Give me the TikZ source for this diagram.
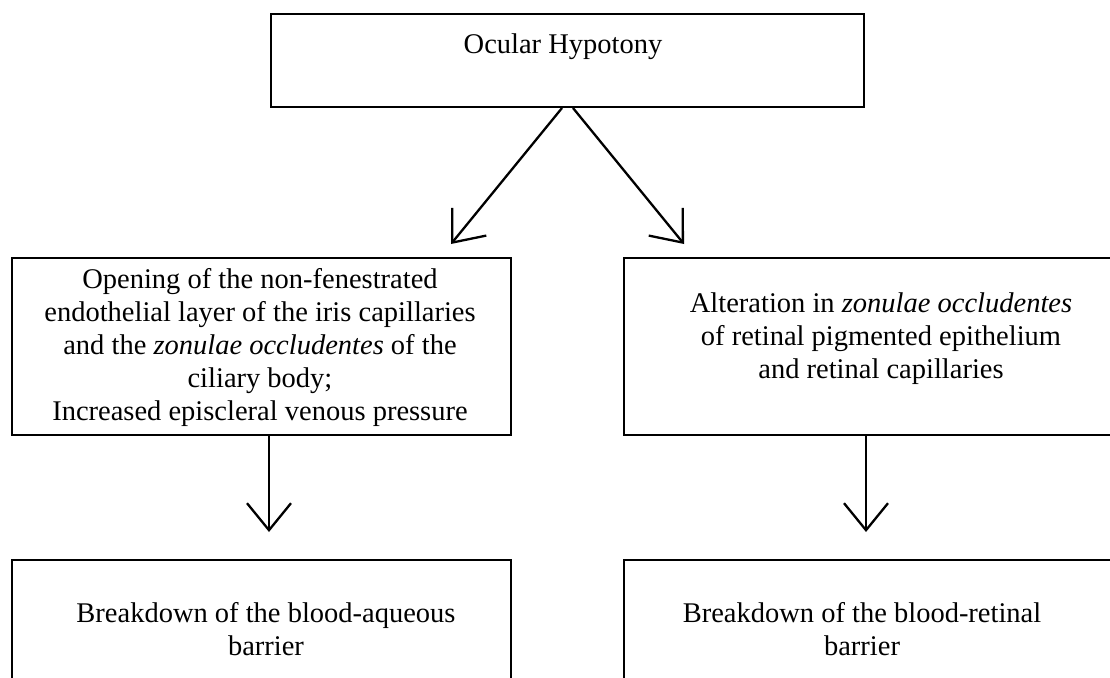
\documentclass[tikz,border=0pt]{standalone}
\usepackage{fontspec}
\setmainfont{Liberation Serif}
\usetikzlibrary{arrows.meta,calc}
\begin{document}
\begin{tikzpicture}[x=1pt,y=-1pt,
  box/.style={draw=black,line width=2pt,rectangle,inner sep=0pt},
  txt/.style={align=center,font=\fontsize{28.5}{33}\selectfont,inner sep=0pt},
  arr/.style={line width=2.3pt,-{Straight Barb[length=27pt,width=44pt,line width=2.3pt]}}]
\path[use as bounding box,fill=white] (0,0) rectangle (1110,677);
\clip (0,0) rectangle (1110,677);
% boxes
\node[box,minimum width=593pt,minimum height=93pt] (top) at (567.5,60.5) {};
\node[box,minimum width=499pt,minimum height=177pt] (ml) at (261.5,346.5) {};
\node[box,minimum width=512pt,minimum height=177pt] (mr) at (880,346.5) {};
\node[box,minimum width=499pt,minimum height=160pt] (bl) at (261.5,640) {};
\node[box,minimum width=512pt,minimum height=160pt] (br) at (880,640) {};
% texts
\node[txt,anchor=base] (ttop) at (563,54) {Ocular Hypotony};
\node[txt] (tml) at (260,347) {Opening of the non-fenestrated\\endothelial layer of the iris capillaries\\and the \textit{zonulae occludentes} of the\\ciliary body;\\Increased episcleral venous pressure};
\node[txt] (tmr) at (881,338.5) {Alteration in \textit{zonulae occludentes}\\of retinal pigmented epithelium\\and retinal capillaries};
\node[txt] (tbl) at (266,629) {Breakdown of the blood-aqueous\\barrier};
\node[txt] (tbr) at (862,629) {Breakdown of the blood-retinal\\barrier};
% arrows
\draw[arr] ([xshift=-5.5pt]top.south) -- ([xshift=-61pt,yshift=13pt]ml.north east);
\draw[arr] ([xshift=5.5pt]top.south) -- ([xshift=61pt,yshift=13pt]mr.north west);
\draw[arr] ([xshift=7.5pt]ml.south) -- ([xshift=7.5pt,yshift=27pt]bl.north);
\draw[arr] ([xshift=-14pt]mr.south) -- ([xshift=-14pt,yshift=27pt]br.north);
\end{tikzpicture}
\end{document}
